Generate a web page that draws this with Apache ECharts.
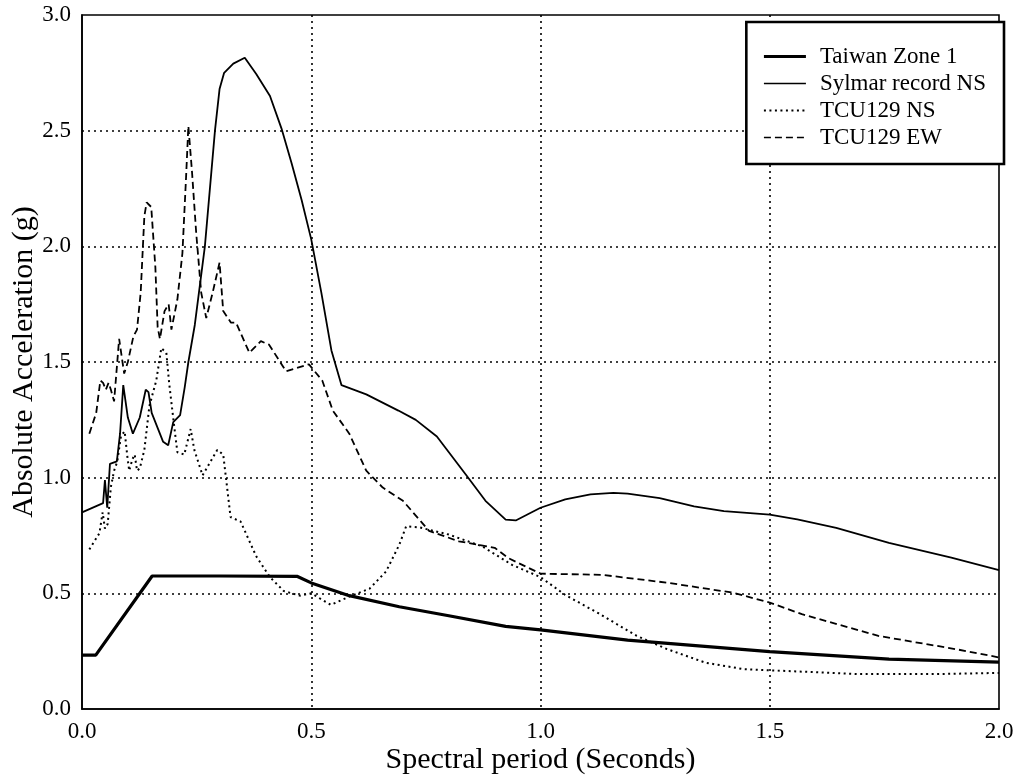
<!DOCTYPE html>
<html>
<head>
<meta charset="utf-8">
<script src="https://cdn.jsdelivr.net/npm/echarts@6/dist/echarts.min.js"></script>
<style>
html,body{margin:0;padding:0;background:#fff;}
#chart{width:1019px;height:780px;}
</style>
</head>
<body>
<div id="chart"></div>
<script>
// ---- Data ----
const seriesNames = ['Taiwan Zone 1', 'Sylmar record NS', 'TCU129 NS', 'TCU129 EW'];
const xTicks = ['0.0', '0.5', '1.0', '1.5', '2.0'];
const yTicks = ['0.0', '0.5', '1.0', '1.5', '2.0', '2.5', '3.0'];

const taiwanX = [0, 0.03, 0.153, 0.3, 0.47, 0.5, 0.583, 0.692, 0.8, 0.924, 1.0, 1.19, 1.5, 1.76, 2.0];
const taiwanY = [0.233, 0.233, 0.575, 0.575, 0.573, 0.545, 0.49, 0.442, 0.403, 0.357, 0.342, 0.298, 0.248, 0.216, 0.203];

const sylmarX = [0, 0.046, 0.05, 0.055, 0.061, 0.076, 0.083, 0.09, 0.1, 0.111, 0.126, 0.139, 0.145, 0.152, 0.166, 0.177, 0.188, 0.199, 0.214, 0.224, 0.232, 0.246, 0.268, 0.29, 0.3, 0.31, 0.33, 0.355, 0.38, 0.41, 0.435, 0.457, 0.479, 0.5, 0.522, 0.544, 0.566, 0.62, 0.69, 0.728, 0.774, 0.837, 0.88, 0.924, 0.946, 1.0, 1.054, 1.109, 1.159, 1.19, 1.26, 1.335, 1.4, 1.5, 1.56, 1.645, 1.76, 1.896, 2.0];
const sylmarY = [0.85, 0.89, 0.99, 0.87, 1.06, 1.07, 1.19, 1.4, 1.26, 1.19, 1.26, 1.38, 1.37, 1.28, 1.21, 1.155, 1.14, 1.24, 1.27, 1.39, 1.5, 1.66, 2.0, 2.5, 2.68, 2.75, 2.79, 2.815, 2.745, 2.65, 2.51, 2.36, 2.2, 2.03, 1.8, 1.55, 1.4, 1.36, 1.29, 1.25, 1.178, 1.014, 0.9, 0.819, 0.815, 0.87, 0.906, 0.928, 0.934, 0.931, 0.912, 0.876, 0.855, 0.84, 0.82, 0.783, 0.718, 0.654, 0.6];

const nsX = [0.016, 0.038, 0.045, 0.05, 0.056, 0.063, 0.07, 0.077, 0.085, 0.093, 0.099, 0.103, 0.11, 0.115, 0.12, 0.126, 0.136, 0.147, 0.162, 0.173, 0.184, 0.19, 0.2, 0.208, 0.223, 0.237, 0.245, 0.263, 0.295, 0.308, 0.324, 0.346, 0.38, 0.41, 0.44, 0.475, 0.5, 0.543, 0.583, 0.627, 0.663, 0.692, 0.707, 0.736, 0.8, 0.873, 0.938, 1.0, 1.054, 1.127, 1.21, 1.276, 1.36, 1.444, 1.528, 1.695, 1.863, 2.0];
const nsY = [0.69, 0.76, 0.85, 0.78, 0.8, 0.96, 1.03, 1.07, 1.18, 1.2, 1.09, 1.03, 1.08, 1.1, 1.03, 1.04, 1.12, 1.31, 1.42, 1.56, 1.54, 1.41, 1.24, 1.11, 1.1, 1.21, 1.12, 1.01, 1.12, 1.1, 0.83, 0.81, 0.66, 0.57, 0.51, 0.49, 0.5, 0.45, 0.486, 0.52, 0.594, 0.71, 0.79, 0.785, 0.754, 0.703, 0.623, 0.57, 0.493, 0.413, 0.316, 0.259, 0.2, 0.172, 0.165, 0.151, 0.151, 0.156];

const ewX = [0.016, 0.031, 0.04, 0.046, 0.052, 0.058, 0.063, 0.07, 0.081, 0.092, 0.1, 0.112, 0.12, 0.128, 0.136, 0.141, 0.151, 0.16, 0.165, 0.17, 0.18, 0.189, 0.195, 0.208, 0.219, 0.227, 0.232, 0.24, 0.249, 0.26, 0.271, 0.285, 0.3, 0.308, 0.325, 0.336, 0.365, 0.39, 0.408, 0.445, 0.495, 0.524, 0.547, 0.583, 0.62, 0.656, 0.7, 0.757, 0.822, 0.9, 0.93, 1.0, 1.134, 1.276, 1.419, 1.5, 1.57, 1.737, 1.905, 2.0];
const ewY = [1.19, 1.28, 1.42, 1.41, 1.38, 1.41, 1.38, 1.33, 1.6, 1.45, 1.5, 1.61, 1.64, 1.8, 2.13, 2.19, 2.17, 1.91, 1.65, 1.6, 1.72, 1.75, 1.64, 1.77, 1.97, 2.3, 2.52, 2.32, 2.06, 1.8, 1.69, 1.8, 1.93, 1.72, 1.67, 1.67, 1.54, 1.59, 1.575, 1.46, 1.49, 1.42, 1.29, 1.19, 1.03, 0.957, 0.9, 0.77, 0.725, 0.697, 0.652, 0.585, 0.58, 0.546, 0.503, 0.46, 0.41, 0.316, 0.259, 0.223];

function pairs(xs, ys) { return xs.map((x, i) => [x, ys[i]]); }

const FONT = '"Liberation Serif", "Times New Roman", serif';

const chart = echarts.init(document.getElementById('chart'), null, {renderer: 'canvas'});

const gridLine = {show: true, lineStyle: {color: '#000', width: 1.6, type: [2, 4]}, showMinLine: false, showMaxLine: false};
const lineWidths = [3.2, 1.8, 2, 1.8];
const lineTypes = ['solid', 'solid', [2, 3.5], [7, 4]];

chart.setOption({
  animation: false,
  backgroundColor: '#fff',
  grid: {left: 82, right: 20, top: 15, bottom: 71, containLabel: false, outerBoundsMode: 'none', show: true, borderColor: '#000', borderWidth: 1.6, backgroundColor: 'transparent'},
  xAxis: {
    type: 'value', min: 0, max: 2, interval: 0.5,
    name: 'Spectral period (Seconds)', nameLocation: 'middle', nameGap: 36, nameMoveOverlap: false,
    nameTextStyle: {fontFamily: FONT, fontSize: 30, color: '#000'},
    axisLine: {show: true, onZero: false, lineStyle: {color: '#000', width: 1.6}},
    axisTick: {show: false},
    axisLabel: {fontFamily: FONT, fontSize: 23, color: '#000', margin: 11, formatter: v => xTicks[Math.round(v / 0.5)]},
    splitLine: gridLine
  },
  yAxis: {
    type: 'value', min: 0, max: 3, interval: 0.5,
    name: 'Absolute Acceleration (g)', nameLocation: 'middle', nameGap: 43, nameMoveOverlap: false,
    nameTextStyle: {fontFamily: FONT, fontSize: 30, color: '#000'},
    axisLine: {show: true, onZero: false, lineStyle: {color: '#000', width: 1.6}},
    axisTick: {show: false},
    axisLabel: {fontFamily: FONT, fontSize: 23, color: '#000', margin: 11, formatter: v => yTicks[Math.round(v / 0.5)]},
    splitLine: gridLine
  },
  legend: {
    orient: 'vertical', right: 15, top: 22,
    data: seriesNames.map((n, i) => ({name: n, lineStyle: {width: lineWidths[i] - (i === 0 ? 0 : 0.2), type: lineTypes[i], color: '#000'}})),
    backgroundColor: '#fff', borderColor: '#000', borderWidth: 2.6, borderRadius: 0,
    padding: [23, 18, 15, 16],
    itemWidth: 42, itemHeight: 14, itemGap: 4,
    itemStyle: {color: 'transparent', borderColor: 'transparent', borderWidth: 0, opacity: 0},
    textStyle: {fontFamily: FONT, fontSize: 23, lineHeight: 23, color: '#000', padding: [0, 0, 0, 9]},
    z: 10
  },
  series: seriesNames.map((n, i) => ({
    name: n, type: 'line', symbol: 'none', z: 5,
    data: [pairs(taiwanX, taiwanY), pairs(sylmarX, sylmarY), pairs(nsX, nsY), pairs(ewX, ewY)][i],
    lineStyle: {color: '#000', width: lineWidths[i], type: lineTypes[i]},
    itemStyle: {color: '#000'}
  }))
});
</script>
</body>
</html>
